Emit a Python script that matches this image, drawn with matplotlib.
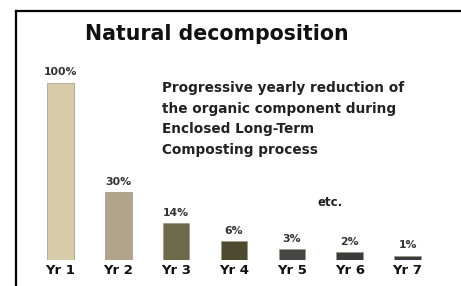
import numpy as np
import matplotlib
matplotlib.use("Agg")
import matplotlib.pyplot as plt
from matplotlib.lines import Line2D

years = ["Yr 1", "Yr 2", "Yr 3", "Yr 4", "Yr 5", "Yr 6", "Yr 7"]
remaining = [100, 30, 14, 6, 3, 2, 1]
pct_labels = ["100%", "30%", "14%", "6%", "3%", "2%", "1%"]
colors = ["#d8cba9", "#b2a48b", "#6d694b", "#4e4a2f", "#474745", "#3b3b3b", "#3b3b3b"]

title = "Natural decomposition"
note = ("Progressive yearly reduction of\n"
        "the organic component during\n"
        "Enclosed Long-Term\n"
        "Composting process")

fig = plt.figure(figsize=(4.61, 2.86), dpi=100)
fig.patch.set_facecolor("white")

# bars: bottom at y=260px, 100% top at y=83px
ax = fig.add_axes([31.5 / 461, 26 / 286, 405 / 461, 177 / 286])
ax.set_yscale("function", functions=(lambda v: np.power(np.clip(v, 0, None), 0.8),
                                      lambda v: np.power(np.clip(v, 0, None), 1 / 0.8)))
x = np.arange(len(years))
ax.bar(x, remaining, width=0.46, color=colors, edgecolor="#9a9584", linewidth=0.5)
ax.set_xlim(-0.5, len(years) - 0.5)
ax.set_ylim(0, 100)

for xi, v, lab in zip(x, remaining, pct_labels):
    ax.annotate(lab, (xi, v), xytext=(0, 4), textcoords="offset points",
                ha="center", va="bottom", fontsize=7.8, fontweight="bold",
                color="#333333")

ax.set_xticks(x)
ax.set_xticklabels(years, fontsize=9.5, fontweight="bold", color="#111111")
ax.tick_params(axis="x", length=0, pad=3)
ax.set_yticks([])
for s in ax.spines.values():
    s.set_visible(False)
ax.patch.set_alpha(0)

# frame (partly cropped at right/bottom)
fig.add_artist(Line2D([16 / 461, 16 / 461], [0, 1 - 10.5 / 286],
                      transform=fig.transFigure, color="black", lw=1.6))
fig.add_artist(Line2D([16 / 461, 1], [1 - 10.5 / 286, 1 - 10.5 / 286],
                      transform=fig.transFigure, color="black", lw=1.6))

fig.text(85 / 461, 1 - 34.5 / 286, title, fontsize=14.8, fontweight="bold",
         ha="left", va="center", color="#111111")
fig.text(162 / 461, 1 - 81 / 286, note, fontsize=9.8, fontweight="bold",
         ha="left", va="top", color="#222222", linespacing=1.6)
fig.text(330 / 461, 1 - 203 / 286, "etc.", fontsize=8.5, fontweight="bold",
         ha="center", va="center", color="#222222")

fig.savefig("out.png", dpi=100, facecolor="white")
